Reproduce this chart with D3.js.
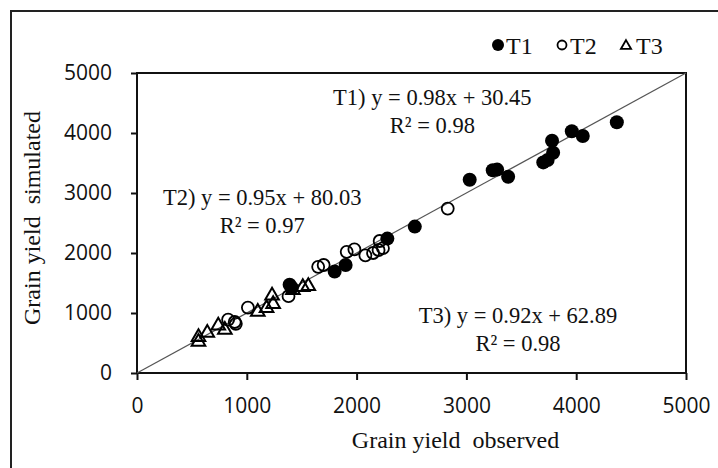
<!DOCTYPE html>
<html>
<head>
<meta charset="utf-8">
<script src="https://cdn.jsdelivr.net/npm/d3@7"></script>
<style>
  body { margin: 0; background: #fff; }
  .tick text { font-family: "Open Sans", sans-serif; font-size: 21px; fill: #111; }
  text { white-space: pre; }
</style>
</head>
<body>
<div class="chart"></div>
<script>
// observed / simulated grain yield
const t1 = [
  [1390, 1470], [1410, 1420], [1800, 1690], [1900, 1800], [2280, 2240],
  [2530, 2440], [3030, 3220], [3240, 3380], [3280, 3390], [3380, 3270],
  [3700, 3510], [3740, 3550], [3790, 3670], [3780, 3870], [3960, 4030],
  [4060, 3950], [4370, 4180]
];
const t2 = [
  [830, 890], [890, 850], [900, 820], [1010, 1090], [1380, 1280],
  [1650, 1770], [1700, 1800], [1910, 2020], [1980, 2060], [2080, 1960],
  [2150, 2000], [2200, 2050], [2210, 2200], [2240, 2080], [2830, 2740]
];
const t3 = [
  [560, 520], [560, 600], [640, 670], [740, 790], [800, 720],
  [1100, 1020], [1180, 1080], [1230, 1290], [1240, 1150], [1420, 1380],
  [1510, 1430], [1560, 1450]
];
const ticks = [0, 1000, 2000, 3000, 4000, 5000];
const equations = [
  { eq: 'T1) y = 0.98x + 30.45', r2: 'R\u00b2 = 0.98', x: 2690, y: 4470 },
  { eq: 'T2) y = 0.95x + 80.03', r2: 'R\u00b2 = 0.97', x: 1140, y: 2800 },
  { eq: 'T3) y = 0.92x + 62.89', r2: 'R\u00b2 = 0.98', x: 3470, y: 830 }
];

const width = 718, height = 468;
const margin = { top: 73, right: 32, bottom: 95, left: 137 };

const svg = d3.select('.chart').append('svg')
  .attr('width', width).attr('height', height);

// outer frame
svg.append('rect').attr('x', 11).attr('y', 11)
  .attr('width', 720).attr('height', 470)
  .attr('fill', 'none').attr('stroke', '#222').attr('stroke-width', 2);

const x = d3.scaleLinear().domain([0, 5000]).range([margin.left, width - margin.right]);
const y = d3.scaleLinear().domain([0, 5000]).range([height - margin.bottom, margin.top]);

svg.append('g')
  .attr('transform', `translate(0,${y(0)})`)
  .call(d3.axisBottom(x).tickValues(ticks).tickFormat(d3.format('d')).tickSize(7).tickPadding(18))
  .call(g => g.select('.domain').remove())
  .call(g => g.selectAll('line').attr('stroke', '#111').attr('stroke-width', 2));

svg.append('g')
  .attr('transform', `translate(${x(0)},0)`)
  .call(d3.axisLeft(y).tickValues(ticks).tickFormat(d3.format('d')).tickSize(6).tickPadding(19))
  .call(g => g.select('.domain').remove())
  .call(g => g.selectAll('line').attr('stroke', '#111').attr('stroke-width', 2));

// plot box
svg.append('rect')
  .attr('x', x(0)).attr('y', y(5000))
  .attr('width', x(5000) - x(0)).attr('height', y(0) - y(5000))
  .attr('fill', 'none').attr('stroke', '#111').attr('stroke-width', 2);

// 1:1 line
svg.append('line')
  .attr('x1', x(0)).attr('y1', y(0)).attr('x2', x(5000)).attr('y2', y(5000))
  .attr('stroke', '#555').attr('stroke-width', 1.2);

const tri = d3.symbol().type(d3.symbolTriangle).size(80);

svg.append('g').selectAll('path').data(t3).enter().append('path')
  .attr('d', tri)
  .attr('transform', d => `translate(${x(d[0])},${y(d[1])})`)
  .attr('fill', 'none').attr('stroke', '#000').attr('stroke-width', 2);

svg.append('g').selectAll('circle').data(t2).enter().append('circle')
  .attr('cx', d => x(d[0])).attr('cy', d => y(d[1])).attr('r', 6)
  .attr('fill', 'none').attr('stroke', '#000').attr('stroke-width', 1.8);

svg.append('g').selectAll('circle').data(t1).enter().append('circle')
  .attr('cx', d => x(d[0])).attr('cy', d => y(d[1])).attr('r', 7)
  .attr('fill', '#000');

// equations
const eqG = svg.append('g')
  .style('font-family', '"Liberation Serif", serif').style('font-size', '22.5px').attr('fill', '#111');
equations.forEach(e => {
  eqG.append('text').attr('x', x(e.x)).attr('y', y(e.y))
    .attr('text-anchor', 'middle').text(e.eq);
  eqG.append('text').attr('x', x(e.x)).attr('y', y(e.y) + 28)
    .attr('text-anchor', 'middle').text(e.r2);
});

// legend
const lg = svg.append('g')
  .style('font-family', '"Liberation Serif", serif').style('font-size', '24px').attr('fill', '#111');
lg.append('circle').attr('cx', 498).attr('cy', 45).attr('r', 6).attr('fill', '#000');
lg.append('text').attr('x', 506).attr('y', 54).text('T1');
lg.append('circle').attr('cx', 562).attr('cy', 45).attr('r', 4.5)
  .attr('fill', 'none').attr('stroke', '#000').attr('stroke-width', 1.8);
lg.append('text').attr('x', 570).attr('y', 54).text('T2');
lg.append('path').attr('d', d3.symbol().type(d3.symbolTriangle).size(45))
  .attr('transform', 'translate(626,46)')
  .attr('fill', 'none').attr('stroke', '#000').attr('stroke-width', 1.8);
lg.append('text').attr('x', 636).attr('y', 54).text('T3');

// axis titles
svg.append('text')
  .attr('x', (x(0) + x(5000)) / 2 + 44).attr('y', 448)
  .attr('text-anchor', 'middle')
  .style('font-family', '"Liberation Serif", serif').style('font-size', '24px')
  .attr('fill', '#111')
  .text('Grain yield  observed');

svg.append('text')
  .attr('transform', `translate(40,${(y(0) + y(5000)) / 2 - 5}) rotate(-90)`)
  .attr('text-anchor', 'middle')
  .style('font-family', '"Liberation Serif", serif').style('font-size', '24px')
  .attr('fill', '#111')
  .text('Grain yield  simulated');
</script>
</body>
</html>
